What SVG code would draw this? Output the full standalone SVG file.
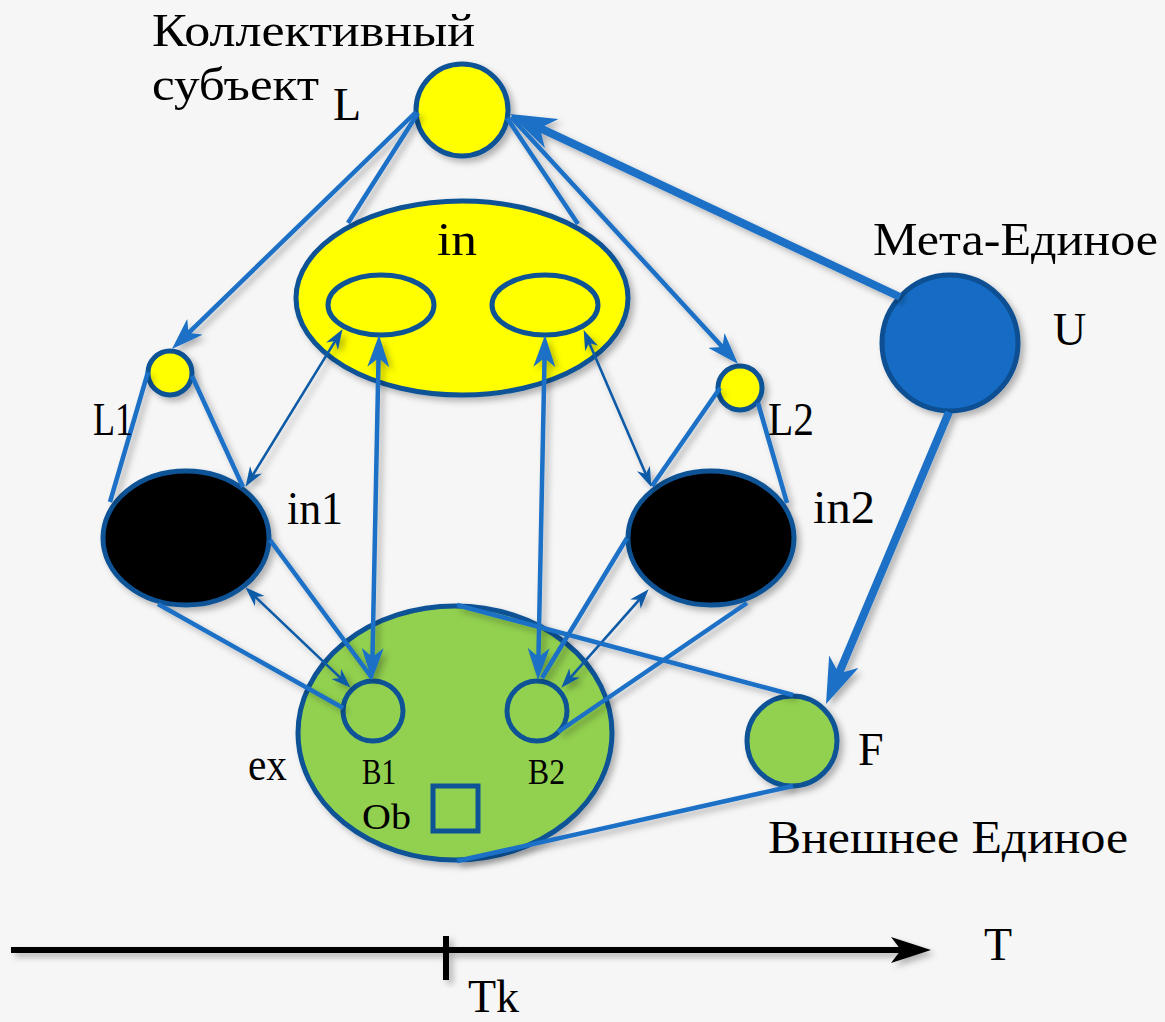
<svg xmlns="http://www.w3.org/2000/svg" width="1165" height="1022" viewBox="0 0 1165 1022">
<style>
.node{stroke:#0d5396;stroke-width:5}
.yel{fill:#ffff00}
.blk{fill:#000000}
.grn{fill:#92d050}
.con{fill:none;stroke:#1a6fc6;stroke-width:4.5}
.thin{fill:none;stroke:#0f5aa6;stroke-width:2.6}
.thick{fill:none;stroke:#1a6fc6;stroke-width:8}
.txt{font-family:"Liberation Serif","DejaVu Serif",serif;font-size:46px;fill:#000}
.sm{font-size:36px}
</style>
<defs>
<filter id="sh" x="-20%" y="-20%" width="140%" height="140%">
<feDropShadow dx="4" dy="4" stdDeviation="3" flood-color="#000" flood-opacity="0.28"/>
</filter>
<marker id="aM" viewBox="0 0 32 22" refX="12" refY="11" markerWidth="32" markerHeight="22" orient="auto-start-reverse" markerUnits="userSpaceOnUse">
<path d="M0,0 L32,11 L0,22 L9,11 z" fill="#1a6fc6"/>
</marker>
<marker id="aS" viewBox="0 0 20 14" refX="8" refY="7" markerWidth="20" markerHeight="14" orient="auto-start-reverse" markerUnits="userSpaceOnUse">
<path d="M0,0 L20,7 L0,14 L6,7 z" fill="#0f5aa6"/>
</marker>
<marker id="aL" viewBox="0 0 46 32" refX="17" refY="16" markerWidth="46" markerHeight="32" orient="auto-start-reverse" markerUnits="userSpaceOnUse">
<path d="M0,0 L46,16 L0,32 L13,16 z" fill="#1a6fc6"/>
</marker>
<marker id="aK" viewBox="0 0 40 26" refX="13" refY="13" markerWidth="40" markerHeight="26" orient="auto" markerUnits="userSpaceOnUse">
<path d="M0,0 L40,13 L0,26 L10,13 z" fill="#000"/>
</marker>
</defs>
<rect x="0" y="0" width="1165" height="1022" fill="#f6f6f6"/>

<g id="nodes" filter="url(#sh)">
<g id="node-L"><circle class="node yel" cx="462" cy="110" r="46"/></g>
<g id="node-in">
<ellipse class="node yel" cx="462" cy="298" rx="166" ry="97"/>
<ellipse class="node yel" cx="381" cy="305" rx="53" ry="30"/>
<ellipse class="node yel" cx="545" cy="305" rx="53" ry="30"/>
</g>
<g id="node-L1"><circle class="node yel" cx="170" cy="373" r="22"/></g>
<g id="node-L2"><circle class="node yel" cx="740" cy="388" r="22"/></g>
<g id="node-in1"><ellipse class="node blk" cx="186" cy="538" rx="83" ry="67"/></g>
<g id="node-in2"><ellipse class="node blk" cx="711" cy="538" rx="83" ry="67"/></g>
<g id="node-U"><circle cx="950" cy="343" r="68" fill="#136cc4" stroke="#0b4f92" stroke-width="5"/></g>
<g id="node-ex">
<ellipse class="node grn" cx="455" cy="733" rx="157" ry="127"/>
<circle class="node grn" cx="373" cy="711" r="30" stroke-width="4.5"/>
<circle class="node grn" cx="537" cy="711" r="30" stroke-width="4.5"/>
<rect x="433" y="786" width="45" height="45" fill="none" stroke="#0d5396" stroke-width="5"/>
</g>
<g id="node-F"><circle class="node grn" cx="792" cy="741" r="45"/></g>
</g>

<g id="connectors" filter="url(#sh)">
<line class="con" x1="416" y1="112" x2="186.3" y2="335.1" marker-end="url(#aM)"/>
<line class="con" x1="511" y1="117" x2="724.5" y2="349.3" marker-end="url(#aM)"/>
<line class="con" x1="418" y1="113" x2="348" y2="223"/>
<line class="con" x1="507" y1="118" x2="578" y2="224"/>
<line class="thick" x1="900" y1="297" x2="536.3" y2="126.3" marker-end="url(#aL)"/>
<line class="thick" stroke-width="7" x1="949" y1="412" x2="837.3" y2="677.3" marker-end="url(#aL)"/>
<line class="con" x1="148" y1="372" x2="110" y2="502"/>
<line class="con" x1="192" y1="376" x2="243" y2="487"/>
<line class="con" x1="720" y1="388" x2="652" y2="486"/>
<line class="con" x1="758" y1="403" x2="787" y2="503"/>
<line class="thin" x1="251.8" y1="476.6" x2="336.2" y2="339.4" marker-start="url(#aS)" marker-end="url(#aS)"/>
<line class="thin" x1="646.6" y1="475.9" x2="588.4" y2="341.1" marker-start="url(#aS)" marker-end="url(#aS)"/>
<line class="con" x1="372.4" y1="660" x2="378.6" y2="355" marker-start="url(#aM)" marker-end="url(#aM)"/>
<line class="con" x1="538.4" y1="660" x2="544.6" y2="355" marker-start="url(#aM)" marker-end="url(#aM)"/>
<line class="thin" x1="254" y1="595.6" x2="342" y2="679.4" marker-start="url(#aS)" marker-end="url(#aS)"/>
<line class="thin" x1="640.7" y1="598.2" x2="569.3" y2="678.8" marker-start="url(#aS)" marker-end="url(#aS)"/>
<line class="con" x1="270" y1="540" x2="372" y2="678"/>
<line class="con" x1="158" y1="604" x2="343" y2="708"/>
<line class="con" x1="627" y1="538" x2="542" y2="678"/>
<line class="con" x1="747" y1="603" x2="558" y2="732"/>
<line class="con" x1="457" y1="605" x2="793" y2="695"/>
<line class="con" x1="457" y1="861" x2="793" y2="786"/>
</g>

<g id="timeline" filter="url(#sh)">
<line x1="11" y1="950" x2="904" y2="950" stroke="#000" stroke-width="6" marker-end="url(#aK)"/>
<rect x="443" y="936" width="6" height="44" fill="#000"/>
</g>

<g id="labels">
<text class="txt" x="152" y="46" textLength="323" lengthAdjust="spacingAndGlyphs">Коллективный</text>
<text class="txt" x="152" y="100" textLength="167" lengthAdjust="spacingAndGlyphs">субъект</text>
<text class="txt" x="333" y="120">L</text>
<text class="txt" x="873" y="255" textLength="285" lengthAdjust="spacingAndGlyphs">Мета-Единое</text>
<text class="txt" x="1053" y="345">U</text>
<text class="txt" x="437" y="255" textLength="40" lengthAdjust="spacingAndGlyphs">in</text>
<text class="txt" x="93" y="435" textLength="40" lengthAdjust="spacingAndGlyphs">L1</text>
<text class="txt" x="287" y="524" textLength="56" lengthAdjust="spacingAndGlyphs">in1</text>
<text class="txt" x="768" y="435" textLength="46" lengthAdjust="spacingAndGlyphs">L2</text>
<text class="txt" x="813" y="523" textLength="62" lengthAdjust="spacingAndGlyphs">in2</text>
<text class="txt" x="248" y="780" textLength="39" lengthAdjust="spacingAndGlyphs">ex</text>
<text class="txt sm" x="362" y="784" textLength="34" lengthAdjust="spacingAndGlyphs">B1</text>
<text class="txt sm" x="528" y="784" textLength="37" lengthAdjust="spacingAndGlyphs">B2</text>
<text class="txt sm" x="362" y="829" textLength="49" lengthAdjust="spacingAndGlyphs">Ob</text>
<text class="txt" x="858" y="765">F</text>
<text class="txt" x="768" y="853" textLength="360" lengthAdjust="spacingAndGlyphs">Внешнее Единое</text>
<text class="txt" x="984" y="960" font-size="48">T</text>
<text class="txt" x="468" y="1012" font-size="46">Tk</text>
</g>
</svg>
